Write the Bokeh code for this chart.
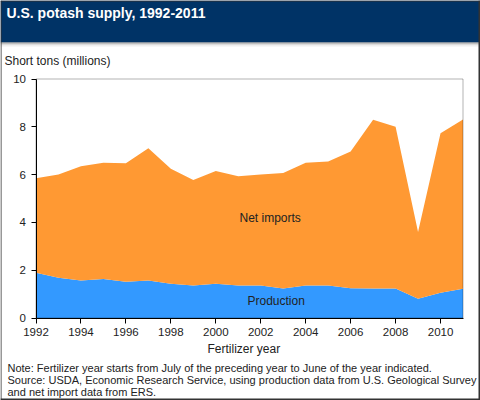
from bokeh.plotting import figure
from bokeh.models import BoxAnnotation, Label, ColumnDataSource, FixedTicker
from bokeh.embed import file_html
from bokeh.resources import INLINE

years = [1992, 1993, 1994, 1995, 1996, 1997, 1998, 1999, 2000, 2001,
         2002, 2003, 2004, 2005, 2006, 2007, 2008, 2009, 2010, 2011]
production = [1.89, 1.68, 1.57, 1.63, 1.52, 1.57, 1.43, 1.36, 1.43, 1.36,
              1.36, 1.23, 1.36, 1.36, 1.24, 1.23, 1.23, 0.81, 1.06, 1.22]
net_imports = [3.96, 4.32, 4.78, 4.87, 4.95, 5.53, 4.82, 4.41, 4.72, 4.57,
               4.64, 4.84, 5.14, 5.19, 5.73, 7.07, 6.77, 2.79, 6.67, 7.09]
x_ticks = list(range(1992, 2012, 2))
y_ticks = [0, 2, 4, 6, 8, 10]

FONT = "Liberation Sans"
INK = "#222222"
W, H = 480, 400
# pixel box of the plot area inside the canvas
PX0, PX1, PY0, PY1 = 35.5, 462.5, 78.5, 317.5
sx = (PX1 - PX0) / (years[-1] - years[0])
sy = (PY1 - PY0) / (y_ticks[-1] - y_ticks[0])

p = figure(width=W, height=H, output_backend="svg", toolbar_location=None,
           x_range=(years[0] - PX0 / sx, years[-1] + (W - PX1) / sx),
           y_range=(y_ticks[0] - (H - PY1) / sy, y_ticks[-1] + PY0 / sy),
           min_border=0, min_border_left=0, min_border_right=0, min_border_top=0, min_border_bottom=0)
p.grid.visible = False
p.outline_line_color = None
p.background_fill_color = "white"
p.border_fill_color = "white"

src = ColumnDataSource(dict(year=years, production=production, net_imports=net_imports))
p.varea_stack(["production", "net_imports"], x="year", color=["#3399FF", "#FF9933"], source=src)

p.xaxis.fixed_location = y_ticks[0]
p.yaxis.fixed_location = years[0]
p.xaxis.bounds = (years[0], years[-1])
p.yaxis.bounds = (y_ticks[0], y_ticks[-1])

for ax, ticks in ((p.xaxis[0], x_ticks), (p.yaxis[0], y_ticks)):
    ax.ticker = FixedTicker(ticks=ticks)
    ax.major_tick_in = 0
    ax.major_tick_out = 5
    ax.minor_tick_line_color = None
    ax.major_tick_line_color = "black"
    ax.axis_line_color = "black"
    ax.major_label_text_font = FONT
    ax.major_label_text_font_size = "11.5px"
    ax.major_label_text_color = INK
p.xaxis[0].major_label_standoff = 5
p.yaxis[0].major_label_standoff = 5

p.add_layout(BoxAnnotation(left=years[0], right=years[-1], bottom=y_ticks[0], top=y_ticks[-1],
                           fill_alpha=0, line_color="black", line_width=1, level="overlay", editable=False))

def band(x0, x1, y0, y1, col):
    p.add_layout(BoxAnnotation(left=x0, right=x1, top=y0, bottom=y1, left_units="canvas", right_units="canvas",
                               top_units="canvas", bottom_units="canvas", fill_color=col, fill_alpha=1,
                               line_color=None, level="overlay", editable=False))

band(0, W, 0, 42, "#003366")
for off, col in ((42, "#8c8c8c"), (43, "#b8b8b8"), (44, "#dddddd"), (45, "#f0f0f0")):
    band(0, W, off, off + 1, col)
band(0, W, 0, 1, "#333333")
band(0, W, H - 2, H, "#333333")
band(0, 1, 0, H, "#333333")
band(W - 2, W, 0, H, "#333333")

def text(x, y, s, size="12px", color=INK, style="normal"):
    p.add_layout(Label(x=x, y=y, x_units="canvas", y_units="canvas", text=s, text_font=FONT,
                       text_font_size=size, text_color=color, text_font_style=style,
                       text_align="left", text_baseline="alphabetic", level="overlay"))

text(6, 12, "U.S. potash supply, 1992-2011", "14px", "white", "bold")
text(4, 60, "Short tons (millions)")
text(239, 217, "Net imports")
text(247, 300, "Production")
text(207, 348, "Fertilizer year")
text(7, 367, "Note: Fertilizer year starts from July of the preceding year to June of the year indicated.", "11px")
text(7, 379, "Source: USDA, Economic Research Service, using production data from U.S. Geological Survey", "11px")
text(7, 391, "and net import data from ERS.", "11px")

open("out.html", "w").write(file_html(p, INLINE))
